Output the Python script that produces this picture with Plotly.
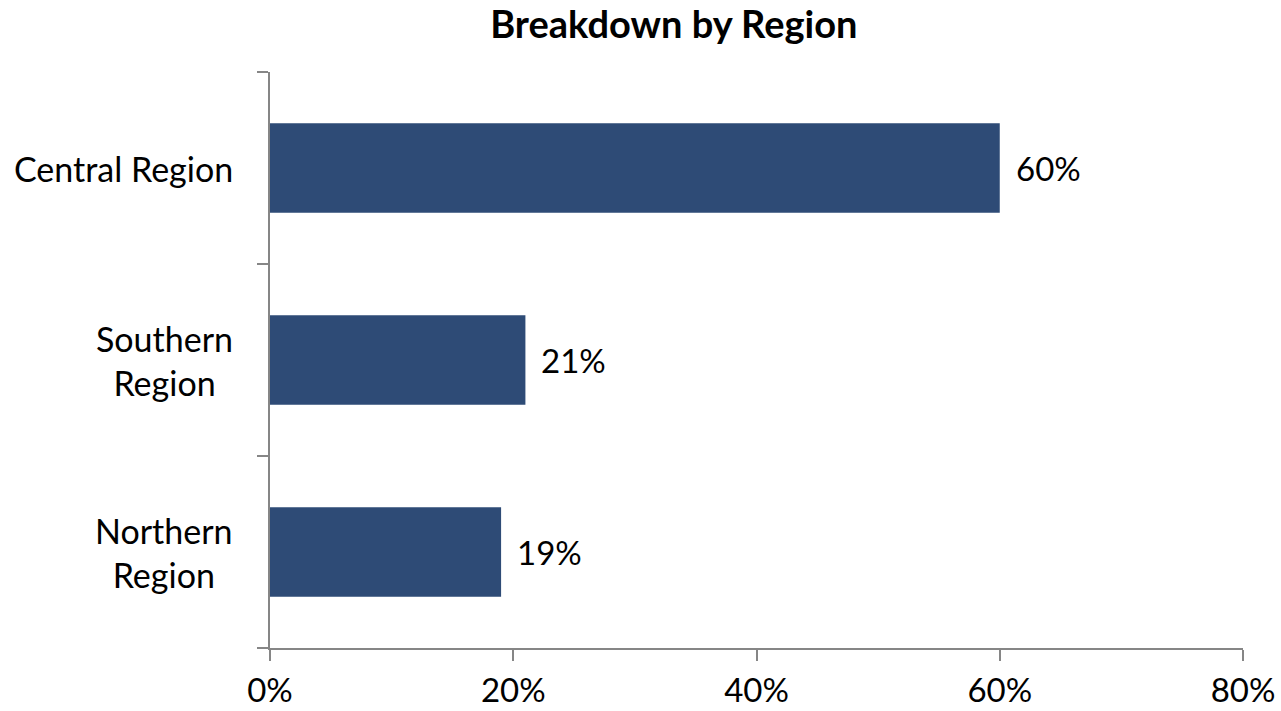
import plotly.graph_objects as go

regions = ["Northern<br>Region", "Southern<br>Region", "Central Region"]
shares = [19, 21, 60]
share_labels = ["19%", "21%", "60%"]
x_ticks = [0, 20, 40, 60, 80]
x_tick_labels = ["0%", "20%", "40%", "60%", "80%"]

FONT = "Lato, Calibri, sans-serif"
BAR_COLOR = "#2E4B76"
AXIS_COLOR = "#868686"

fig = go.Figure()
fig.add_trace(go.Bar(
    x=shares,
    y=regions,
    orientation="h",
    marker=dict(color=BAR_COLOR, line=dict(width=0)),
    hoverinfo="skip",
))

# value labels to the right of each bar
for region, val, lab in zip(regions, shares, share_labels):
    fig.add_annotation(
        x=val, y=region, text=lab, showarrow=False,
        xanchor="left", xshift=14,
        font=dict(family=FONT, size=33, color="black"),
    )

# category labels, lines centred like the original
for region in regions:
    fig.add_annotation(
        x=0, xref="paper", y=region, text=region, showarrow=False,
        xanchor="right", xshift=-35, align="center",
        font=dict(family=FONT, size=34, color="black"),
    )

fig.update_layout(
    width=1281,
    height=711,
    margin=dict(l=270, r=38, t=72, b=63),
    paper_bgcolor="white",
    plot_bgcolor="white",
    showlegend=False,
    bargap=0.535,
    font=dict(family=FONT, size=33, color="black"),
    title=dict(
        text="<b>Breakdown by Region</b>",
        x=0.526, xanchor="center",
        y=0.965, yanchor="middle",
        font=dict(family=FONT, size=38, color="black"),
    ),
)
fig.update_xaxes(
    range=[0, 80],
    tickvals=x_ticks,
    ticktext=x_tick_labels,
    automargin=False,
    showgrid=False,
    zeroline=False,
    showline=True,
    linecolor=AXIS_COLOR,
    linewidth=1.5,
    ticks="outside",
    ticklen=11,
    tickwidth=1.5,
    tickcolor=AXIS_COLOR,
    ticklabelstandoff=2,
    tickfont=dict(family=FONT, size=33, color="black"),
)
fig.update_yaxes(
    type="category",
    categoryorder="array",
    categoryarray=regions,
    tickson="boundaries",
    automargin=False,
    showticklabels=False,
    showgrid=False,
    zeroline=False,
    showline=True,
    linecolor=AXIS_COLOR,
    linewidth=1.5,
    ticks="outside",
    ticklen=11,
    tickwidth=1.5,
    tickcolor=AXIS_COLOR,
)

# the page body has a default margin; drop it so the figure fills the window
fig.write_html(
    "out.html",
    config={"displayModeBar": False},
    post_script="document.body.style.margin='0';",
)
